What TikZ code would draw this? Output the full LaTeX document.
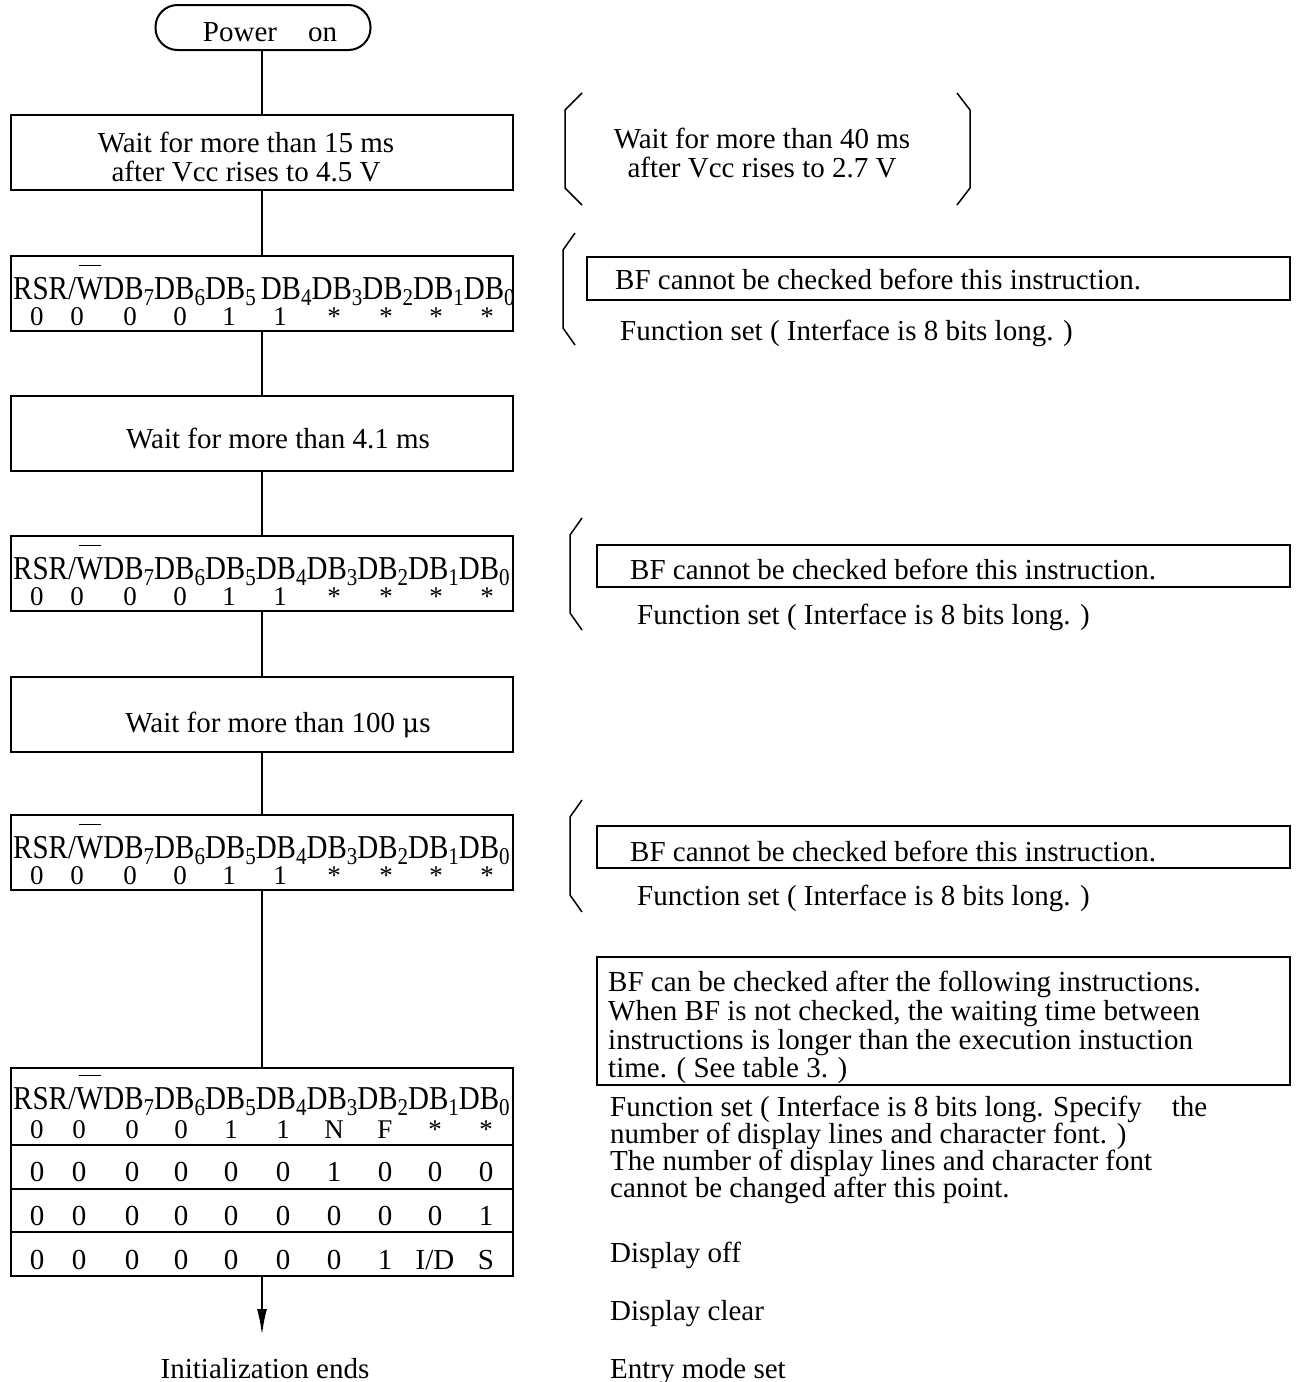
\documentclass[tikz,border=0pt]{standalone}
\usepackage{fontspec}
\setmainfont{Liberation Serif}
\usetikzlibrary{arrows.meta}
\newcommand{\sbs}[1]{\raisebox{-6pt}{\fontsize{21}{21}\selectfont #1}}
\newcommand{\ovW}{\makebox[0pt][l]{\hspace{3pt}\raisebox{28.5pt}{\rule{22pt}{1.5pt}}}W}
\newcommand{\hdrraw}[1]{RSR/\ovW DB\sbs{7}DB\sbs{6}DB\sbs{5}#1DB\sbs{4}DB\sbs{3}DB\sbs{2}DB\sbs{1}DB\sbs{0}}
\newcommand{\hdr}[1][]{\scalebox{1}[1.15]{\hdrraw{#1}}}
\tikzset{
  box/.style={draw, line width=2pt, inner sep=0pt},
  txt/.style={inner sep=0pt, font=\fontsize{29}{29}\selectfont},
  val/.style={inner sep=0pt, font=\fontsize{27}{27}\selectfont},
  conn/.style={line width=2pt},
  brk/.style={line width=1.5pt},
  rule/.style={line width=2pt}
}
\begin{document}
\begin{tikzpicture}[x=1pt,y=-1pt]
\useasboundingbox (0,0) rectangle (1310,1382);
% Power on
\node[box, rounded corners=22pt, minimum width=215pt, minimum height=45pt] (pw) at (263,27.5) {};
\node[txt, anchor=base] (pwt) at (270,41) {Power\hspace{31pt}on};
% box 1
\node[box, minimum width=502pt, minimum height=75pt] (b1) at (262,152.5) {};
\node[txt, anchor=base] (b1a) at (246,152) {Wait for more than 15 ms};
\node[txt, anchor=base] (b1b) at (246,181) {after Vcc rises to 4.5 V};
% Vcc bracket
\draw[brk] (582,93) -- (565,110) -- (565,188) -- (582,205);
\draw[brk] (957,93) -- (970,110) -- (970,188) -- (957,205);
\node[txt, anchor=base] (va) at (762,148) {Wait for more than 40 ms};
\node[txt, anchor=base] (vb) at (762,177) {after Vcc rises to 2.7 V};
% register 1
\node[box, minimum width=502pt, minimum height=75pt] (r1) at (262,293.5) {};
\node[txt, anchor=base west] (r1h) at (13,299) {\hdr[\hspace{5pt}]};
\foreach \x/\v [count=\i] in {37/0,77/0,130/0,180/0,229/1,280/1,334/*,386/*,436/*,487/*}
  \node[val, anchor=base] (r1v\i) at (\x,325) {\v};
\draw[brk] (575,233) -- (563,250) -- (563,328) -- (575,345);
\node[box, minimum width=703pt, minimum height=43pt] (bf1) at (938.5,278.5) {};
\node[txt, anchor=base west] (bf1t) at (615,289) {BF cannot be checked before this instruction.};
\node[txt, anchor=base west] (fs1) at (620,340) {Function set ( Interface is 8 bits long. )};
% box 2
\node[box, minimum width=502pt, minimum height=75pt] (b2) at (262,433.5) {};
\node[txt, anchor=base] (b2t) at (278,448) {Wait for more than 4.1 ms};
% register 2
\node[box, minimum width=502pt, minimum height=75pt] (r2) at (262,573.5) {};
\node[txt, anchor=base west] (r2h) at (13,579) {\hdr};
\foreach \x/\v [count=\i] in {37/0,77/0,130/0,180/0,229/1,280/1,334/*,386/*,436/*,487/*}
  \node[val, anchor=base] (r2v\i) at (\x,605) {\v};
\draw[brk] (582,518) -- (570,535) -- (570,613) -- (582,630);
\node[box, minimum width=693pt, minimum height=42pt] (bf2) at (943.5,566) {};
\node[txt, anchor=base west] (bf2t) at (630,579) {BF cannot be checked before this instruction.};
\node[txt, anchor=base west] (fs2) at (637,624) {Function set ( Interface is 8 bits long. )};
% box 3
\node[box, minimum width=502pt, minimum height=75pt] (b3) at (262,714.5) {};
\node[txt, anchor=base] (b3t) at (278,732) {Wait for more than 100 \fontspec{DejaVu Serif}\fontsize{26}{26}\selectfont μ\fontspec{Liberation Serif}\fontsize{29}{29}\selectfont s};
% register 3
\node[box, minimum width=502pt, minimum height=75pt] (r3) at (262,852.5) {};
\node[txt, anchor=base west] (r3h) at (13,858) {\hdr};
\foreach \x/\v [count=\i] in {37/0,77/0,130/0,180/0,229/1,280/1,334/*,386/*,436/*,487/*}
  \node[val, anchor=base] (r3v\i) at (\x,884) {\v};
\draw[brk] (582,800) -- (570,817) -- (570,895) -- (582,912);
\node[box, minimum width=693pt, minimum height=42pt] (bf3) at (943.5,847) {};
\node[txt, anchor=base west] (bf3t) at (630,861) {BF cannot be checked before this instruction.};
\node[txt, anchor=base west] (fs3) at (637,905) {Function set ( Interface is 8 bits long. )};
% big note box
\node[box, minimum width=693pt, minimum height=128pt] (bf4) at (943.5,1021) {};
\node[txt, anchor=base west] (n1) at (608,991) {BF can be checked after the following instructions.};
\node[txt, anchor=base west] (n2) at (608,1020) {When BF is not checked, the waiting time between};
\node[txt, anchor=base west] (n3) at (608,1049) {instructions is longer than the execution instuction};
\node[txt, anchor=base west] (n4) at (608,1077) {time. ( See table 3. )};
% final table
\node[box, minimum width=502pt, minimum height=208pt] (tb) at (262,1172) {};
\draw[rule] (tb.west |- 0,1145) -- (tb.east |- 0,1145);
\draw[rule] (tb.west |- 0,1189) -- (tb.east |- 0,1189);
\draw[rule] (tb.west |- 0,1232) -- (tb.east |- 0,1232);
\node[txt, anchor=base west] (tbh) at (13,1109) {\hdr};
\foreach \x/\v [count=\i] in {37/0,79/0,132/0,181/0,231/1,283/1,334/N,385/F,435/*,486/*}
  \node[val, anchor=base] (ta\i) at (\x,1138) {\v};
\foreach \x/\v [count=\i] in {37/0,79/0,132/0,181/0,231/0,283/0,334/1,385/0,435/0,486/0}
  \node[txt, anchor=base] (tc\i) at (\x,1181) {\v};
\foreach \x/\v [count=\i] in {37/0,79/0,132/0,181/0,231/0,283/0,334/0,385/0,435/0,486/1}
  \node[txt, anchor=base] (td\i) at (\x,1225) {\v};
\foreach \x/\v [count=\i] in {37/0,79/0,132/0,181/0,231/0,283/0,334/0,385/1,435/{I/D},486/S}
  \node[txt, anchor=base] (te\i) at (\x,1269) {\v};
% right column
\node[txt, anchor=base west] (f1) at (610,1116) {Function set ( Interface is 8 bits long. Specify\hspace{30pt}the};
\node[txt, anchor=base west] (f2) at (610,1143) {number of display lines and character font. )};
\node[txt, anchor=base west] (f3) at (610,1170) {The number of display lines and character font};
\node[txt, anchor=base west] (f4) at (610,1197) {cannot be changed after this point.};
\node[txt, anchor=base west] (d1) at (610,1262) {Display off};
\node[txt, anchor=base west] (d2) at (610,1320) {Display clear};
\node[txt, anchor=base west] (d3) at (610,1378) {Entry mode set};
\node[txt, anchor=base] (ie) at (265,1378) {Initialization ends};
\coordinate (tip) at (262,1335);
% connectors
\draw[conn] (pw.south -| b1.north) -- (b1.north);
\draw[conn] (b1) -- (r1);
\draw[conn] (r1) -- (b2);
\draw[conn] (b2) -- (r2);
\draw[conn] (r2) -- (b3);
\draw[conn] (b3) -- (r3);
\draw[conn] (r3) -- (tb);
\draw[conn, -{Latex[length=26pt,width=10pt]}] (tb.south) -- (tip);
\end{tikzpicture}
\end{document}
